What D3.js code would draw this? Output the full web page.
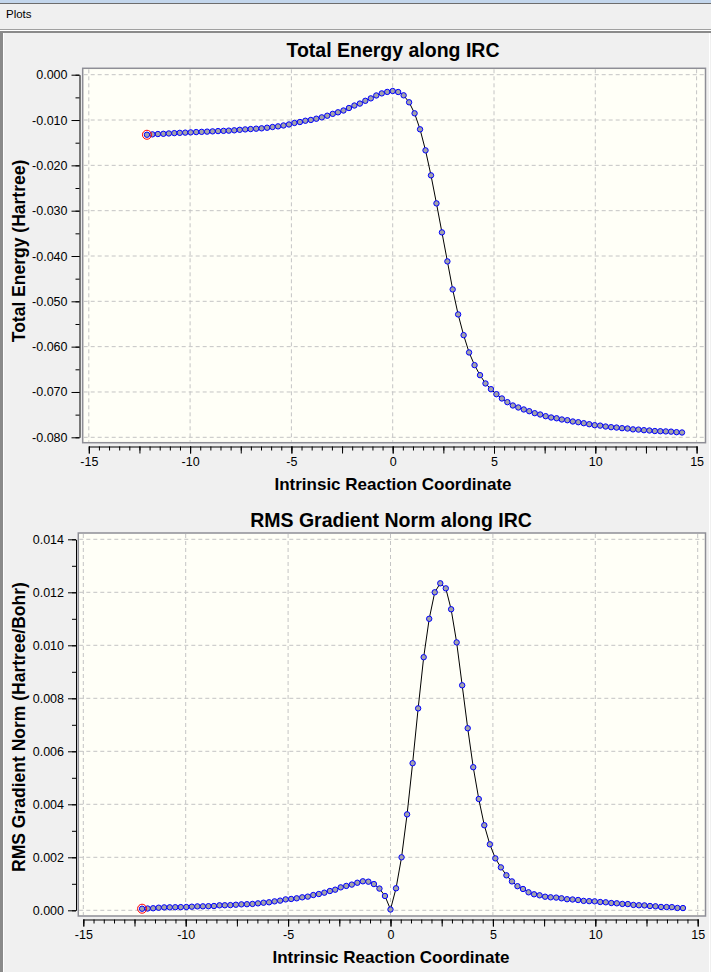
<!DOCTYPE html>
<html>
<head>
<meta charset="utf-8">
<script src="https://cdn.jsdelivr.net/npm/d3@7/dist/d3.min.js"></script>
<style>
  html, body { margin: 0; padding: 0; background: #f0f0f0; }
  svg { display: block; }
  text { font-family: "Liberation Sans", Arial, sans-serif; }
</style>
</head>
<body>
<svg id="chart" width="711" height="972"></svg>
<script>
// ---------------- DATA ----------------
const irc = [
  -12.13, -11.86, -11.59, -11.32, -11.05, -10.78, -10.51, -10.24, -9.97, -9.70,
  -9.43, -9.16, -8.89, -8.62, -8.35, -8.09, -7.82, -7.55, -7.28, -7.01,
  -6.74, -6.47, -6.20, -5.93, -5.66, -5.39, -5.12, -4.85, -4.58, -4.31,
  -4.04, -3.77, -3.50, -3.23, -2.96, -2.70, -2.43, -2.16, -1.89, -1.62,
  -1.35, -1.08, -0.81, -0.54, -0.27, 0.00,
  0.27, 0.54, 0.81, 1.08, 1.35, 1.62, 1.89, 2.16, 2.43, 2.70,
  2.96, 3.23, 3.50, 3.77, 4.04, 4.31, 4.58, 4.85, 5.12, 5.39,
  5.66, 5.93, 6.20, 6.47, 6.74, 7.01, 7.28, 7.55, 7.82, 8.09,
  8.35, 8.62, 8.89, 9.16, 9.43, 9.70, 9.97, 10.24, 10.51, 10.78,
  11.05, 11.32, 11.59, 11.86, 12.13, 12.40, 12.67, 12.94, 13.21, 13.48,
  13.74, 14.01, 14.28
];
const totalEnergy = [
  -0.01325, -0.01316, -0.01309, -0.01304, -0.01296, -0.01289, -0.01283, -0.01278, -0.01272, -0.01266,
  -0.01261, -0.01256, -0.01250, -0.01244, -0.01239, -0.01234, -0.01227, -0.01216, -0.01207, -0.01199,
  -0.01191, -0.01183, -0.01170, -0.01154, -0.01140, -0.01120, -0.01098, -0.01065, -0.01044, -0.01016,
  -0.00998, -0.00971, -0.00941, -0.00905, -0.00864, -0.00830, -0.00790, -0.00735, -0.00680, -0.00637,
  -0.00576, -0.00522, -0.00458, -0.00412, -0.00380, -0.00360,
  -0.00382, -0.00455, -0.00609, -0.00852, -0.01205, -0.01669, -0.02221, -0.02839, -0.03479, -0.04119,
  -0.04737, -0.05289, -0.05746, -0.06128, -0.06408, -0.06629, -0.06812, -0.06938, -0.07049, -0.07143,
  -0.07225, -0.07298, -0.07342, -0.07386, -0.07424, -0.07468, -0.07497, -0.07534, -0.07563, -0.07580,
  -0.07607, -0.07623, -0.07651, -0.07667, -0.07689, -0.07711, -0.07733, -0.07742, -0.07762, -0.07777,
  -0.07785, -0.07799, -0.07806, -0.07825, -0.07830, -0.07843, -0.07850, -0.07862, -0.07866, -0.07870,
  -0.07875, -0.07887, -0.07894
];
const rmsGradient = [
  0.000060, 0.000068, 0.000078, 0.000098, 0.000110, 0.000113, 0.000116, 0.000120, 0.000124, 0.000136,
  0.000148, 0.000150, 0.000155, 0.000162, 0.000188, 0.000190, 0.000196, 0.000210, 0.000225, 0.000230,
  0.000240, 0.000262, 0.000286, 0.000302, 0.000338, 0.000365, 0.000412, 0.000428, 0.000453, 0.000490,
  0.000516, 0.000576, 0.000614, 0.000665, 0.000728, 0.000778, 0.000866, 0.000920, 0.000970, 0.001040,
  0.001094, 0.001080, 0.000990, 0.000820, 0.000540, 0.000030,
  0.00083, 0.00200, 0.00362, 0.00555, 0.00762, 0.00955, 0.01100, 0.01200, 0.01234, 0.01215,
  0.01136, 0.01011, 0.00849, 0.00687, 0.00540, 0.00420, 0.00321, 0.00249, 0.00196, 0.00162,
  0.00132, 0.00109, 0.00091, 0.000804, 0.000679, 0.000604, 0.000566, 0.000513, 0.000490, 0.000480,
  0.000453, 0.000418, 0.000408, 0.000389, 0.000355, 0.000345, 0.000338, 0.000313, 0.000302, 0.000275,
  0.000264, 0.000240, 0.000235, 0.000202, 0.000190, 0.000185, 0.000162, 0.000151, 0.000126, 0.000122,
  0.000120, 0.000088, 0.000085
];
const xTicks = [-15, -10, -5, 0, 5, 10, 15];
const energyTicks = [0, -0.01, -0.02, -0.03, -0.04, -0.05, -0.06, -0.07, -0.08];
const gradientTicks = [0, 0.002, 0.004, 0.006, 0.008, 0.010, 0.012, 0.014];
const titles = ["Total Energy along IRC", "RMS Gradient Norm along IRC"];
const yTitles = ["Total Energy (Hartree)", "RMS Gradient Norm (Hartree/Bohr)"];
const xTitle = "Intrinsic Reaction Coordinate";
const windowTitle = "Plots";

// ---------------- DRAW ----------------
const svg = d3.select("#chart");

// window chrome
svg.append("rect").attr("x", 0).attr("y", 0).attr("width", 711).attr("height", 3).attr("fill", "#c3d6ec");
svg.append("line").attr("x1", 0).attr("x2", 711).attr("y1", 3.5).attr("y2", 3.5).attr("stroke", "#6d6d6d");
svg.append("text").attr("x", 6).attr("y", 18)
  .attr("font-family", "'DejaVu Sans', sans-serif").attr("font-size", 11.5).attr("fill", "#000").text(windowTitle);
svg.append("line").attr("x1", 0).attr("x2", 711).attr("y1", 29.5).attr("y2", 29.5).attr("stroke", "#a0a0a0");
svg.append("line").attr("x1", 0).attr("x2", 711).attr("y1", 30.5).attr("y2", 30.5).attr("stroke", "#ffffff");
svg.append("rect").attr("x", 0).attr("y", 31).attr("width", 711).attr("height", 2).attr("fill", "#8a8a8a");
svg.append("rect").attr("x", 0).attr("y", 31).attr("width", 3).attr("height", 941).attr("fill", "#8a8a8a");
svg.append("line").attr("x1", 3.5).attr("x2", 3.5).attr("y1", 33).attr("y2", 972).attr("stroke", "#ffffff");
svg.append("line").attr("x1", 709.5).attr("x2", 709.5).attr("y1", 33).attr("y2", 972).attr("stroke", "#ffffff");

const fmt = v => (Math.abs(v) < 1e-12 ? 0 : v).toFixed(3);
const fmtX = v => String(v);
const pts = irc.map((x, i) => ({ x, e: totalEnergy[i], g: rmsGradient[i] }));

function drawChart(cfg) {
  const g = svg.append("g");
  const x = d3.scaleLinear().domain([-15, 15]).range(cfg.xr);
  const y = d3.scaleLinear().domain(cfg.yd).range(cfg.yr);

  // plot box
  g.append("rect").attr("x", cfg.box[0]).attr("y", cfg.box[1])
    .attr("width", cfg.box[2] - cfg.box[0]).attr("height", cfg.box[3] - cfg.box[1])
    .attr("fill", "#fffff7").attr("stroke", "#8e8e96").attr("stroke-width", 1.5);

  // grid
  g.append("g").selectAll("line").data(xTicks).join("line")
    .attr("x1", d => x(d)).attr("x2", d => x(d))
    .attr("y1", cfg.box[1] + 1).attr("y2", cfg.box[3] - 1)
    .attr("stroke", "#c4c4c4").attr("stroke-dasharray", "4,3");
  g.append("g").selectAll("line").data(cfg.ticks).join("line")
    .attr("x1", cfg.box[0] + 1).attr("x2", cfg.box[2] - 1)
    .attr("y1", d => y(d)).attr("y2", d => y(d))
    .attr("stroke", "#c4c4c4").attr("stroke-dasharray", "4,3");

  // axes
  const xMinor = d3.range(-15, 15.001, 0.5);
  const xMid = d3.range(-15, 15.001, 2.5);
  g.append("g").attr("transform", `translate(0,${cfg.xAxisY})`)
    .call(d3.axisBottom(x).tickValues(xMinor).tickSize(4).tickSizeOuter(0).tickFormat(""))
    .call(a => a.selectAll("line,path").attr("stroke", "#000"));
  g.append("g").attr("transform", `translate(0,${cfg.xAxisY})`)
    .call(d3.axisBottom(x).tickValues(xMid).tickSize(7).tickSizeOuter(0).tickFormat(""))
    .call(a => a.select("path").remove())
    .call(a => a.selectAll("line").attr("stroke", "#000"));
  g.append("g").attr("transform", `translate(0,${cfg.xAxisY})`)
    .call(d3.axisBottom(x).tickValues(xTicks).tickSize(7).tickPadding(4).tickSizeOuter(0).tickFormat(fmtX))
    .call(a => a.select("path").remove())
    .call(a => a.selectAll("line").attr("stroke", "#000"))
    .call(a => a.selectAll("text").attr("font-size", 12.5).attr("fill", "#000")
      .attr("font-family", "'Liberation Sans', Arial, sans-serif"));

  g.append("g").attr("transform", `translate(${cfg.yAxisX},0)`)
    .call(d3.axisLeft(y).tickValues(cfg.minor).tickSize(4).tickSizeOuter(0).tickFormat(""))
    .call(a => a.selectAll("line,path").attr("stroke", "#000"));
  g.append("g").attr("transform", `translate(${cfg.yAxisX},0)`)
    .call(d3.axisLeft(y).tickValues(cfg.ticks).tickSize(8).tickPadding(4).tickSizeOuter(0).tickFormat(fmt))
    .call(a => a.select("path").remove())
    .call(a => a.selectAll("line").attr("stroke", "#000"))
    .call(a => a.selectAll("text").attr("font-size", 12.5).attr("fill", "#000")
      .attr("font-family", "'Liberation Sans', Arial, sans-serif"));

  // line + points
  const line = d3.line().x(d => x(d.x)).y(d => y(d[cfg.key]));
  g.append("path").datum(pts).attr("d", line).attr("fill", "none").attr("stroke", "#000").attr("stroke-width", 1);
  g.append("g").selectAll("circle").data(pts).join("circle")
    .attr("cx", d => x(d.x)).attr("cy", d => y(d[cfg.key])).attr("r", 2.7)
    .attr("fill", "#a2a2aa").attr("stroke", "#0000ff").attr("stroke-width", 1);
  // highlighted first point
  g.append("circle").attr("cx", x(pts[0].x)).attr("cy", y(pts[0][cfg.key])).attr("r", 4.5)
    .attr("fill", "none").attr("stroke", "#ff0000").attr("stroke-width", 1);

  // titles
  g.append("text").attr("x", cfg.titleX).attr("y", cfg.titleY).attr("text-anchor", "middle")
    .attr("font-size", 19.5).attr("font-weight", "bold").attr("fill", "#000").text(cfg.title);
  g.append("text").attr("x", cfg.titleX).attr("y", cfg.xTitleY).attr("text-anchor", "middle")
    .attr("font-size", 17).attr("font-weight", "bold").attr("fill", "#000").text(xTitle);
  g.append("text").attr("transform", `translate(${cfg.yTitleX},${cfg.yTitleCY}) rotate(-90)`)
    .attr("text-anchor", "middle").attr("font-size", 17.5).attr("font-weight", "bold").attr("fill", "#000").text(cfg.yTitle);
}

drawChart({
  key: "e", title: titles[0], yTitle: yTitles[0],
  box: [82.7, 68.3, 705.5, 442.7], xr: [88.8, 696.6], yd: [0, -0.08], yr: [74.7, 437.3],
  ticks: energyTicks, minor: d3.range(0, -0.0801, -0.005),
  xAxisY: 446.5, yAxisX: 79.5,
  titleX: 393, titleY: 57, xTitleY: 490, yTitleX: 25, yTitleCY: 251
});
drawChart({
  key: "g", title: titles[1], yTitle: yTitles[1],
  box: [78.3, 533, 705.5, 916], xr: [83.3, 697.7], yd: [0, 0.014], yr: [910.3, 539.3],
  ticks: gradientTicks, minor: d3.range(0, 0.01401, 0.001),
  xAxisY: 919.5, yAxisX: 76,
  titleX: 391, titleY: 527, xTitleY: 963, yTitleX: 25, yTitleCY: 727
});
</script>
</body>
</html>
